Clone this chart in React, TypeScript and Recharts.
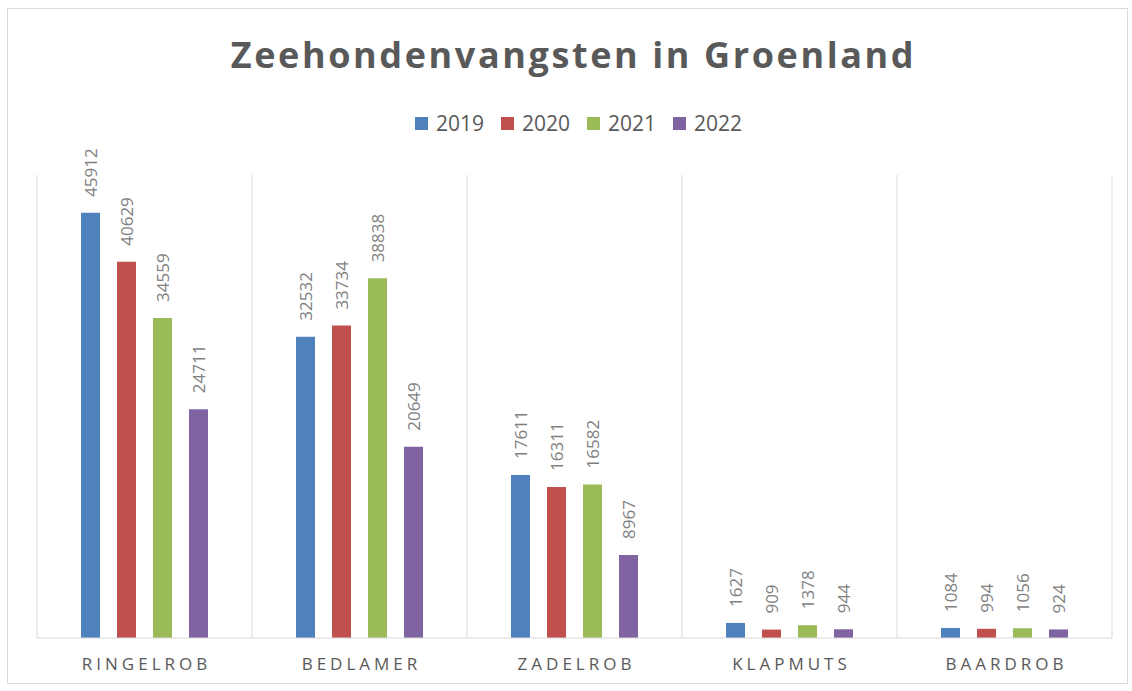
import { BarChart, Bar, XAxis, YAxis, CartesianGrid, LabelList } from 'recharts';

const categories = ['RINGELROB', 'BEDLAMER', 'ZADELROB', 'KLAPMUTS', 'BAARDROB'];
const years = ['2019', '2020', '2021', '2022'];
const values2019 = [45912, 32532, 17611, 1627, 1084];
const values2020 = [40629, 33734, 16311, 909, 994];
const values2021 = [34559, 38838, 16582, 1378, 1056];
const values2022 = [24711, 20649, 8967, 944, 924];
const colors = ['#4f81bd', '#c0504d', '#9bbb59', '#8064a2'];

const series = [values2019, values2020, values2021, values2022];
const data = categories.map((name, i) => {
  const row: Record<string, string | number> = { name };
  years.forEach((y, s) => (row[y] = series[s][i]));
  return row;
});

const FONT = '"Open Sans", Calibri, sans-serif';
const TEXT = '#595959';

function ValueLabel(props: any) {
  const { x, y, width, value } = props;
  const cx = x + width / 2;
  const ty = y - 16;
  return (
    <text
      x={cx}
      y={ty}
      transform={`rotate(-90 ${cx} ${ty})`}
      textAnchor="start"
      dominantBaseline="central"
      fontFamily={FONT}
      fontSize={17}
      fill="#7f7f7f"
    >
      {value}
    </text>
  );
}

function CategoryTick(props: any) {
  const { x, y, payload } = props;
  return (
    <text x={x + 2} y={y + 24} textAnchor="middle" fontFamily={FONT} fontSize={17} letterSpacing={4} fill={TEXT}>
      {payload.value}
    </text>
  );
}

export default function App() {
  return (
    <div
      style={{
        position: 'absolute',
        left: 7,
        top: 8,
        width: 1119,
        height: 674,
        border: '1px solid #d9d9d9',
        background: '#fff',
        fontFamily: FONT,
      }}
    >
      <div
        style={{
          position: 'absolute',
          top: 21,
          left: 6,
          width: '100%',
          textAlign: 'center',
          fontSize: 36,
          fontWeight: 700,
          letterSpacing: 2.6,
          color: TEXT,
        }}
      >
        Zeehondenvangsten in Groenland
      </div>
      <div
        style={{
          position: 'absolute',
          top: 100,
          left: 11,
          width: '100%',
          display: 'flex',
          justifyContent: 'center',
          gap: 17,
          fontSize: 21,
          color: TEXT,
        }}
      >
        {years.map((y, i) => (
          <span key={y} style={{ display: 'flex', alignItems: 'center', gap: 8 }}>
            <span style={{ width: 13, height: 13, background: colors[i], display: 'inline-block' }} />
            {y}
          </span>
        ))}
      </div>
      <BarChart
        width={1119}
        height={674}
        data={data}
        margin={{ top: 166, right: 15, left: 29, bottom: 10 }}
        barCategoryGap={44}
        barGap={17}
        barSize={19}
      >
        <CartesianGrid
          horizontal={false}
          stroke="#d9d9d9"
          verticalCoordinatesGenerator={({ offset }: any) =>
            categories.map((_, i) => offset.left + (offset.width * i) / categories.length).concat(offset.left + offset.width)
          }
        />
        <XAxis dataKey="name" axisLine={{ stroke: '#d9d9d9' }} tickLine={false} tick={<CategoryTick />} height={35} interval={0} />
        <YAxis hide domain={[0, 50000]} />
        {years.map((y, i) => (
          <Bar key={y} dataKey={y} fill={colors[i]} isAnimationActive={false}>
            <LabelList dataKey={y} content={<ValueLabel />} />
          </Bar>
        ))}
      </BarChart>
    </div>
  );
}
